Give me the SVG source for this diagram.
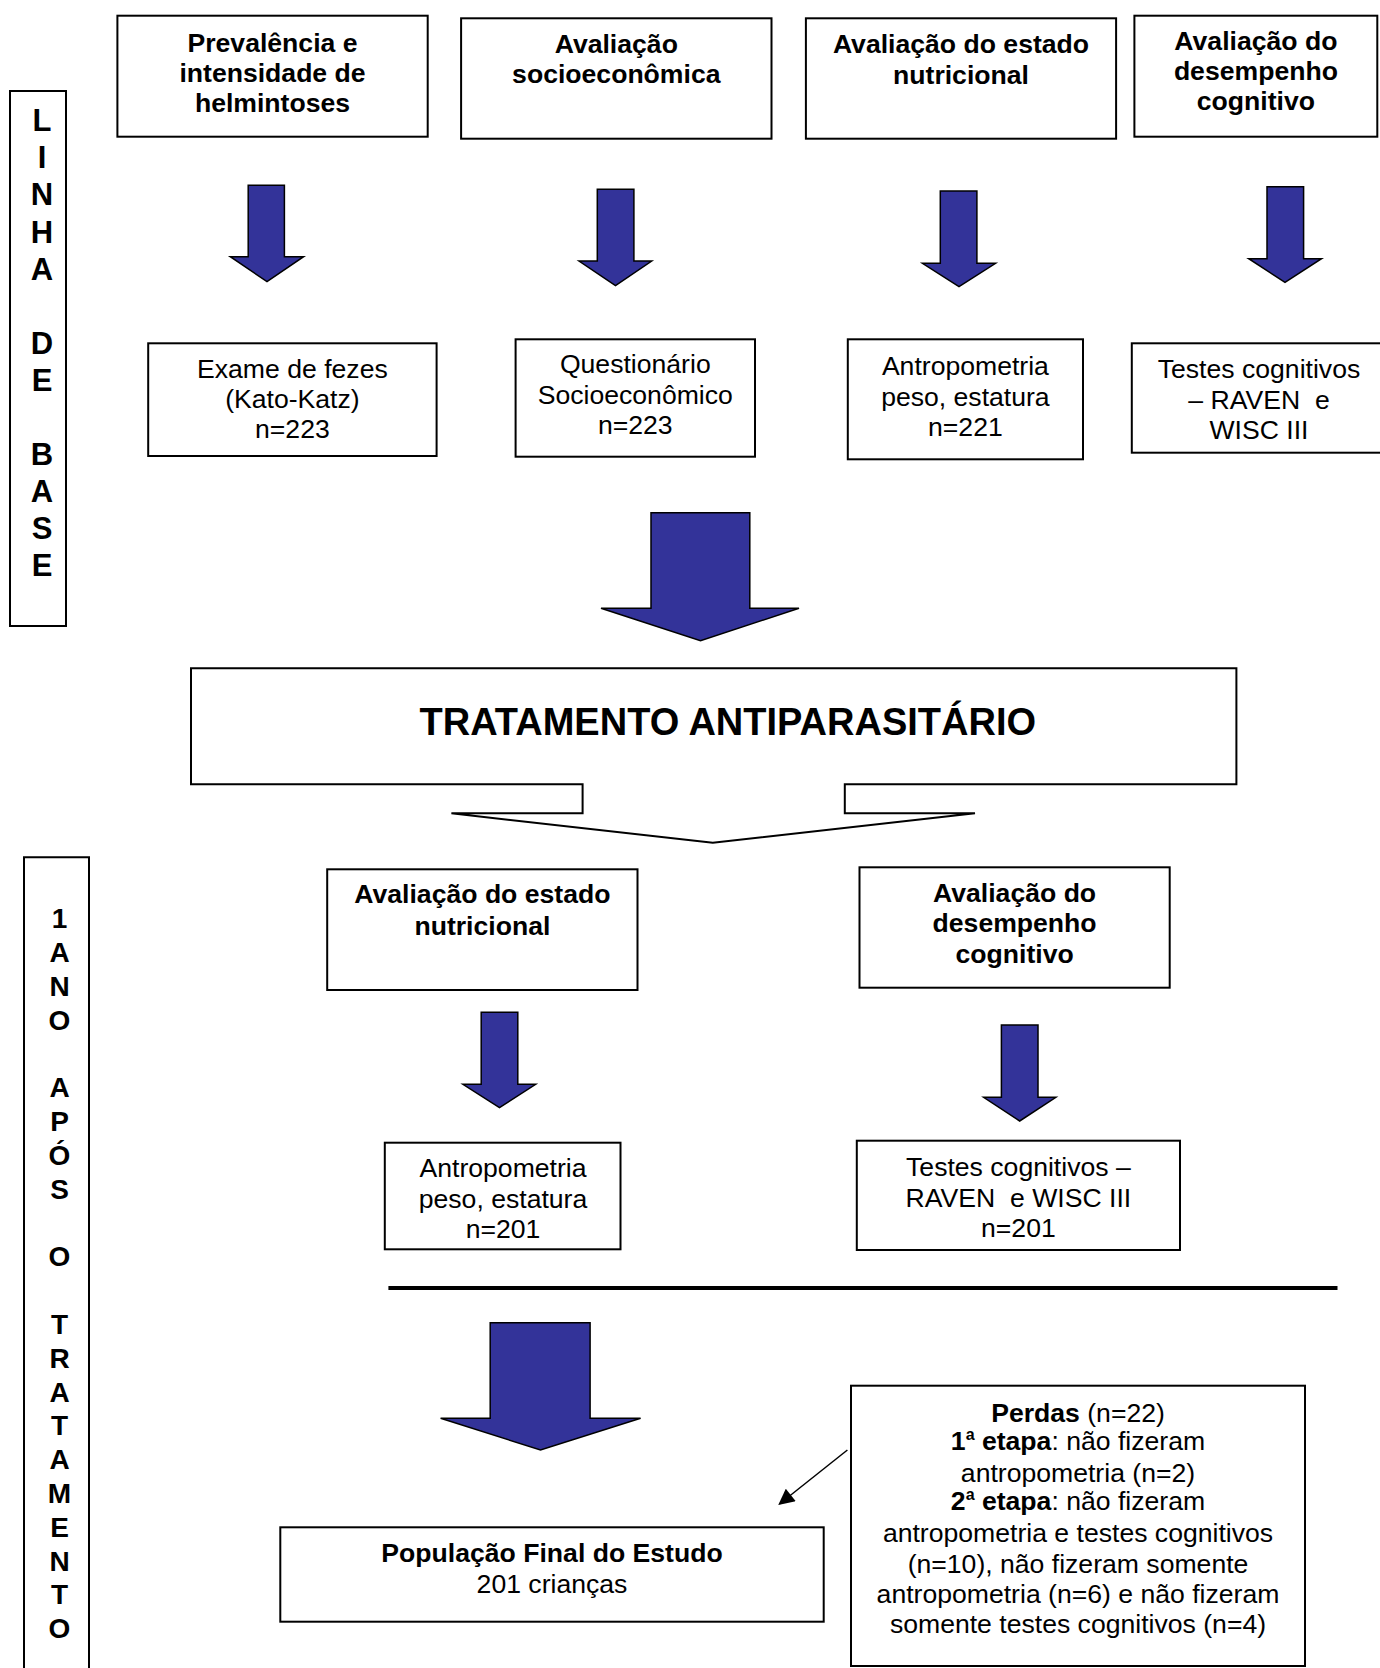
<svg xmlns="http://www.w3.org/2000/svg" width="1380" height="1668" viewBox="0 0 1380 1668">
<style>
.box{fill:#fff;stroke:#000;stroke-width:2}
.arr{fill:#333399;stroke:#000;stroke-width:1.5;stroke-linejoin:miter}
.b{font-family:"Liberation Sans",Arial,sans-serif;font-weight:bold;font-size:26.6px;text-anchor:middle;fill:#000}
.r{font-family:"Liberation Sans",Arial,sans-serif;font-size:26.6px;text-anchor:middle;fill:#000}
.v{font-family:"Liberation Sans",Arial,sans-serif;font-weight:bold;font-size:31px;text-anchor:middle;fill:#000}
.v2{font-family:"Liberation Sans",Arial,sans-serif;font-weight:bold;font-size:28px;text-anchor:middle;fill:#000}
.t{font-family:"Liberation Sans",Arial,sans-serif;font-weight:bold;font-size:38px;text-anchor:middle;fill:#000}
</style>
<defs>
<marker id="ah2" viewBox="0 0 10 10" refX="9" refY="5" markerWidth="20" markerHeight="16" markerUnits="userSpaceOnUse" orient="auto"><path d="M0,0 L10,5 L0,10 Z" fill="#000"/></marker>
</defs>
<rect width="1380" height="1668" fill="#fff"/>

<g id="linha-de-base">
<rect class="box" x="10" y="91" width="56" height="535"/>
<text class="v" x="42" y="131.2">L</text>
<text class="v" x="42" y="168.3">I</text>
<text class="v" x="42" y="205.4">N</text>
<text class="v" x="42" y="242.5">H</text>
<text class="v" x="42" y="279.6">A</text>
<text class="v" x="42" y="353.8">D</text>
<text class="v" x="42" y="390.9">E</text>
<text class="v" x="42" y="465.1">B</text>
<text class="v" x="42" y="502.2">A</text>
<text class="v" x="42" y="539.3">S</text>
<text class="v" x="42" y="576.4">E</text>
</g>

<g id="um-ano">
<path class="box" d="M24,1680 V857.3 H89 V1680"/>
<text class="v2" x="59.5" y="928.3">1</text>
<text class="v2" x="59.5" y="962.1">A</text>
<text class="v2" x="59.5" y="995.9">N</text>
<text class="v2" x="59.5" y="1029.7">O</text>
<text class="v2" x="59.5" y="1097.3">A</text>
<text class="v2" x="59.5" y="1131.1">P</text>
<text class="v2" x="59.5" y="1164.9">Ó</text>
<text class="v2" x="59.5" y="1198.7">S</text>
<text class="v2" x="59.5" y="1266.3">O</text>
<text class="v2" x="59.5" y="1333.9">T</text>
<text class="v2" x="59.5" y="1367.7">R</text>
<text class="v2" x="59.5" y="1401.5">A</text>
<text class="v2" x="59.5" y="1435.3">T</text>
<text class="v2" x="59.5" y="1469.1">A</text>
<text class="v2" x="59.5" y="1502.9">M</text>
<text class="v2" x="59.5" y="1536.7">E</text>
<text class="v2" x="59.5" y="1570.5">N</text>
<text class="v2" x="59.5" y="1604.3">T</text>
<text class="v2" x="59.5" y="1638.1">O</text>
</g>

<g id="prevalencia">
<rect class="box" x="117.4" y="15.7" width="310.3" height="121"/>
<text class="b" x="272.5" y="51.7">Prevalência e</text>
<text class="b" x="272.5" y="82.3">intensidade de</text>
<text class="b" x="272.5" y="112.3">helmintoses</text>
</g>

<g id="socioeconomica">
<rect class="box" x="461.1" y="18.3" width="310.4" height="120.4"/>
<text class="b" x="616.3" y="53.3">Avaliação</text>
<text class="b" x="616.3" y="83.3">socioeconômica</text>
</g>

<g id="nutricional">
<rect class="box" x="805.9" y="18.3" width="310.2" height="120.4"/>
<text class="b" x="961" y="53.3">Avaliação do estado</text>
<text class="b" x="961" y="84">nutricional</text>
</g>

<g id="cognitivo">
<rect class="box" x="1134.4" y="15.7" width="242.9" height="121"/>
<text class="b" x="1255.9" y="50">Avaliação do</text>
<text class="b" x="1255.9" y="80">desempenho</text>
<text class="b" x="1255.9" y="110">cognitivo</text>
</g>

<g id="exame-fezes">
<rect class="box" x="148.2" y="343.3" width="288.4" height="112.7"/>
<text class="r" x="292.4" y="378.3">Exame de fezes</text>
<text class="r" x="292.4" y="408.3">(Kato-Katz)</text>
<text class="r" x="292.4" y="438.3">n=223</text>
</g>

<g id="questionario">
<rect class="box" x="515.6" y="339.3" width="239.4" height="117.4"/>
<text class="r" x="635.3" y="373.3">Questionário</text>
<text class="r" x="635.3" y="404">Socioeconômico</text>
<text class="r" x="635.3" y="434">n=223</text>
</g>

<g id="antropometria-1">
<rect class="box" x="847.8" y="339.3" width="235.2" height="120"/>
<text class="r" x="965.4" y="375">Antropometria</text>
<text class="r" x="965.4" y="406">peso, estatura</text>
<text class="r" x="965.4" y="436">n=221</text>
</g>

<g id="testes-1">
<rect class="box" x="1131.8" y="343.3" width="250" height="109.4"/>
<text class="r" x="1259" y="378.3">Testes cognitivos</text>
<text class="r" x="1259" y="409.3">– RAVEN&#160; e</text>
<text class="r" x="1259" y="439.3">WISC III</text>
</g>

<g id="tratamento">
<path class="box" d="M191,668.3 H1236.4 V784.3 H844.8 V813.3 H975 L712.8,842.7 L451.4,813.3 H582.6 V784.3 H191 Z"/>
<text class="t" x="727.8" y="735">TRATAMENTO ANTIPARASITÁRIO</text>
</g>

<g id="nutricional-2">
<rect class="box" x="327.2" y="869.3" width="310.3" height="120.7"/>
<text class="b" x="482.4" y="903.3">Avaliação do estado</text>
<text class="b" x="482.4" y="935">nutricional</text>
</g>

<g id="cognitivo-2">
<rect class="box" x="859.5" y="867.3" width="310.2" height="120.4"/>
<text class="b" x="1014.6" y="901.7">Avaliação do</text>
<text class="b" x="1014.6" y="931.7">desempenho</text>
<text class="b" x="1014.6" y="963.3">cognitivo</text>
</g>

<g id="antropometria-2">
<rect class="box" x="384.8" y="1142.7" width="235.7" height="106.6"/>
<text class="r" x="503" y="1177.3">Antropometria</text>
<text class="r" x="503" y="1208.3">peso, estatura</text>
<text class="r" x="503" y="1238.3">n=201</text>
</g>

<g id="testes-2">
<rect class="box" x="856.8" y="1140.7" width="323.2" height="109.3"/>
<text class="r" x="1018.4" y="1176">Testes cognitivos –</text>
<text class="r" x="1018.4" y="1206.7">RAVEN&#160; e WISC III</text>
<text class="r" x="1018.4" y="1237.3">n=201</text>
</g>

<g id="populacao-final">
<rect class="box" x="280.3" y="1527.3" width="543.4" height="94.4"/>
<text class="b" x="552" y="1561.7">População Final do Estudo</text>
<text class="r" x="552" y="1593.3">201 crianças</text>
</g>

<g id="perdas">
<rect class="box" x="851" y="1385.7" width="454" height="280.3"/>
<text class="r" x="1078" y="1421.7"><tspan font-weight="bold">Perdas</tspan> (n=22)</text>
<text class="r" x="1078" y="1450"><tspan font-weight="bold">1</tspan><tspan font-weight="bold" font-size="16" dy="-10">a</tspan><tspan font-weight="bold" dy="10"> etapa</tspan>: não fizeram</text>
<text class="r" x="1078" y="1481.7">antropometria (n=2)</text>
<text class="r" x="1078" y="1510"><tspan font-weight="bold">2</tspan><tspan font-weight="bold" font-size="16" dy="-10">a</tspan><tspan font-weight="bold" dy="10"> etapa</tspan>: não fizeram</text>
<text class="r" x="1078" y="1541.7">antropometria e testes cognitivos</text>
<text class="r" x="1078" y="1573.3">(n=10), não fizeram somente</text>
<text class="r" x="1078" y="1603.3">antropometria (n=6) e não fizeram</text>
<text class="r" x="1078" y="1633.3">somente testes cognitivos (n=4)</text>
</g>

<g id="connectors">
<polygon class="arr" points="248.2,185.3 284.4,185.3 284.4,256.7 303.6,256.7 267,281.7 230.3,256.7 248.2,256.7"/>
<polygon class="arr" points="597.3,189.3 633.9,189.3 633.9,261 651.7,261 615.5,285.7 579,261 597.3,261"/>
<polygon class="arr" points="940.3,191 976.9,191 976.9,263.3 995.6,263.3 959,286.7 922.4,263.3 940.3,263.3"/>
<polygon class="arr" points="1267,186.7 1303.6,186.7 1303.6,258.7 1321.5,258.7 1285,282.3 1248.7,258.7 1267,258.7"/>
<polygon class="arr" points="651,512.7 749.8,512.7 749.8,608.3 799,608.3 700.5,640.7 601,608.3 651,608.3"/>
<polygon class="arr" points="481.2,1012.3 517.8,1012.3 517.8,1084.3 535.7,1084.3 499.5,1107.7 462.9,1084.3 481.2,1084.3"/>
<polygon class="arr" points="1001.4,1025 1038,1025 1038,1097.3 1055.9,1097.3 1019.7,1121 983.6,1097.3 1001.4,1097.3"/>
<polygon class="arr" points="490.2,1322.7 590.1,1322.7 590.1,1418.3 640.6,1418.3 540.5,1450 440.6,1418.3 490.2,1418.3"/>
<line x1="388.4" y1="1288" x2="1337.5" y2="1288" stroke="#000" stroke-width="4"/>
<line x1="847.4" y1="1450" x2="779.5" y2="1504" stroke="#000" stroke-width="1.5" marker-end="url(#ah2)"/>
</g>
</svg>
